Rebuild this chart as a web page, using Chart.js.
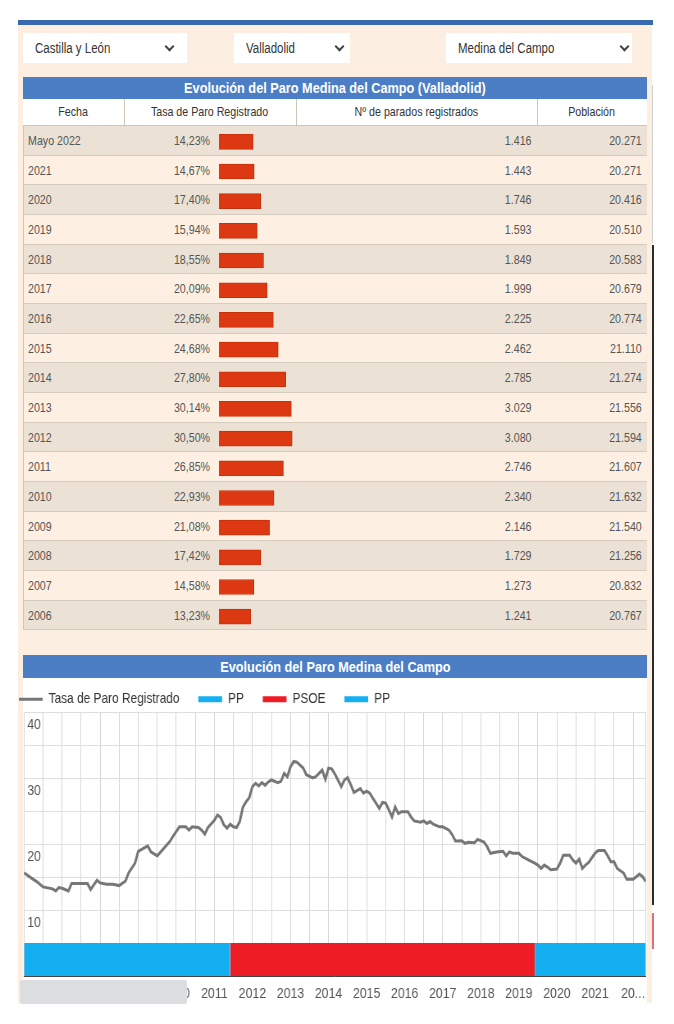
<!DOCTYPE html>
<html lang="es">
<head>
<meta charset="utf-8">
<title>Evolución del Paro Medina del Campo</title>
<script src="https://cdn.jsdelivr.net/npm/chart.js@4.4.1/dist/chart.umd.min.js"></script>
<style>
  body { margin: 0; background: #fff; font-family: "Liberation Sans", Arial, sans-serif; color: #444; }
  #page { position: relative; width: 674px; height: 1024px; overflow: hidden; }
  .abs { position: absolute; }
  /* texto estrecho tipo Arial Narrow */
  .n { display: inline-block; white-space: nowrap; transform: scaleX(0.82); }
  .izq { transform-origin: 0 50%; }
  .der { transform-origin: 100% 50%; }
  #topline { left: 18px; top: 20px; width: 635px; height: 5px; background: #3a69b1; }
  #panel { left: 18px; top: 25px; width: 634px; height: 978px; background: #fcefe2; }
  .select { top: 33px; height: 30px; background: #fff; font-size: 14px; color: #333; line-height: 30px; }
  .select > span { position: absolute; left: 12px; }
  .select i { position: absolute; top: 10px; width: 5px; height: 5px; border-right: 2px solid #444; border-bottom: 2px solid #444; transform: rotate(45deg); }
  #tabla { left: 23px; top: 77px; width: 624px; }
  .titulo { height: 22px; background: #4b7ec4; color: #fff; font-weight: bold; font-size: 15.5px; line-height: 22px; text-align: center; }
  .cab { position: relative; height: 27px; background: #fff; border-bottom: 1px solid #cfc6b9; box-sizing: border-box; font-size: 13px; color: #333; line-height: 26px; }
  .cab > span { position: absolute; top: 0; text-align: center; }
  .cab > i { position: absolute; top: 0; width: 1px; height: 26px; background: #cfc6b9; }
  .fila { position: relative; height: 29.68px; box-sizing: border-box; border-bottom: 1px solid #d5ccbf; border-left: 1px solid #cfc6b9; font-size: 13px; line-height: 29px; color: #555; }
  .fila span { position: absolute; top: 0; }
  #barras { left: 219px; top: 126.5px; width: 84px; height: 504.5px; }
  #grafico-fondo { left: 23px; top: 678px; width: 624px; height: 326px; background: #fff; }
  #grafico-titulo { left: 23px; top: 655px; width: 624px; height: 23px; background: #4b7ec4; color: #fff; font-weight: bold; font-size: 15.5px; line-height: 23px; text-align: center; }
  /* el lienzo se dibuja ancho y se estrecha para imitar la fuente estrecha */
  #linea { left: 0; top: 669px; width: 789px; height: 337px; transform: scaleX(0.82); transform-origin: 0 0; }
  #tapa { left: 20px; top: 980px; width: 167px; height: 24px; background: #dcdde1; border-radius: 2px; z-index: 5; }
  #scroll1 { left: 652px; top: 85px; width: 1px; height: 158px; background: #d0d0d0; }
  #scroll2 { left: 652px; top: 245px; width: 2px; height: 660px; background: #2d2a28; }
  #scroll3 { left: 652px; top: 913px; width: 2px; height: 36px; background: #d9707a; }
</style>
</head>
<body>
<div id="page">
  <div id="topline" class="abs"></div>
  <div id="panel" class="abs"></div>
  <div id="scroll1" class="abs"></div>
  <div id="scroll2" class="abs"></div>
  <div id="scroll3" class="abs"></div>

  <div class="abs select" style="left:23px;width:164px"><span class="n izq">Castilla y León</span><i style="left:143px"></i></div>
  <div class="abs select" style="left:234px;width:116px"><span class="n izq">Valladolid</span><i style="left:102px"></i></div>
  <div class="abs select" style="left:446px;width:186px"><span class="n izq">Medina del Campo</span><i style="left:175px"></i></div>

  <div id="tabla" class="abs">
    <div class="titulo"><span class="n">Evolución del Paro Medina del Campo (Valladolid)</span></div>
    <div class="cab">
      <span style="left:0;width:101px"><span class="n">Fecha</span></span>
      <span style="left:101px;width:172px"><span class="n">Tasa de Paro Registrado</span></span>
      <span style="left:273px;width:241px"><span class="n">Nº de parados registrados</span></span>
      <span style="left:514px;width:110px"><span class="n">Población</span></span>
      <i style="left:101px"></i><i style="left:273px"></i><i style="left:514px"></i>
    </div>
    <div id="filas"></div>
  </div>
  <div id="barras" class="abs"><canvas id="barChart"></canvas></div>

  <div id="grafico-fondo" class="abs"></div>
  <div id="grafico-titulo" class="abs"><span class="n">Evolución del Paro Medina del Campo</span></div>
  <div id="linea" class="abs"><canvas id="lineChart"></canvas></div>
  <div id="tapa" class="abs"></div>
</div>

<script>
// tabla anual
const fechas = ['Mayo 2022', '2021', '2020', '2019', '2018', '2017', '2016', '2015', '2014',
  '2013', '2012', '2011', '2010', '2009', '2008', '2007', '2006'];
const tasaAnual = [14.23, 14.67, 17.40, 15.94, 18.55, 20.09, 22.65, 24.68, 27.80,
  30.14, 30.50, 26.85, 22.93, 21.08, 17.42, 14.58, 13.23];
const parados = [1416, 1443, 1746, 1593, 1849, 1999, 2225, 2462, 2785,
  3029, 3080, 2746, 2340, 2146, 1729, 1273, 1241];
const poblacion = [20271, 20271, 20416, 20510, 20583, 20679, 20774, 21110, 21274,
  21556, 21594, 21607, 21632, 21540, 21256, 20832, 20767];

// serie mensual
const mesesSerie = [
  '2006-01', '2006-03', '2006-05', '2006-07', '2006-10', '2006-11', '2006-12',
  '2007-01', '2007-03', '2007-04', '2007-07', '2007-09', '2007-10', '2007-12',
  '2008-01', '2008-03', '2008-05', '2008-07', '2008-09', '2008-10', '2008-12',
  '2009-01', '2009-04', '2009-05', '2009-07', '2009-09', '2009-11', '2009-12',
  '2010-02', '2010-04', '2010-05', '2010-06', '2010-08', '2010-09', '2010-10', '2010-11',
  '2011-01', '2011-02', '2011-03', '2011-04', '2011-05', '2011-06', '2011-07', '2011-08',
  '2011-09', '2011-10', '2011-11', '2011-12',
  '2012-01', '2012-02', '2012-03', '2012-04', '2012-05', '2012-06', '2012-07', '2012-09',
  '2012-10', '2012-11', '2012-12',
  '2013-01', '2013-02', '2013-03', '2013-05', '2013-06', '2013-08', '2013-09', '2013-11', '2013-12',
  '2014-01', '2014-02', '2014-03', '2014-05', '2014-06', '2014-07', '2014-08', '2014-09',
  '2014-11', '2014-12',
  '2015-01', '2015-02', '2015-03', '2015-05', '2015-06', '2015-07', '2015-08', '2015-09',
  '2015-10', '2015-11', '2015-12',
  '2016-02', '2016-03', '2016-04', '2016-06', '2016-07', '2016-08', '2016-09', '2016-10', '2016-12',
  '2017-01', '2017-03', '2017-04', '2017-05', '2017-07', '2017-08', '2017-09', '2017-11', '2017-12',
  '2018-02', '2018-03', '2018-04', '2018-06', '2018-08', '2018-09', '2018-10', '2018-11',
  '2019-01', '2019-02', '2019-04', '2019-06', '2019-07', '2019-08', '2019-09', '2019-10', '2019-11',
  '2020-01', '2020-02', '2020-03', '2020-05', '2020-06', '2020-07', '2020-08', '2020-09',
  '2020-10', '2020-11',
  '2021-01', '2021-02', '2021-04', '2021-05', '2021-06', '2021-07', '2021-08', '2021-10', '2021-11',
  '2022-01', '2022-02', '2022-03', '2022-04', '2022-05'
];
const tasaMensual = [
  15.65, 14.95, 14.3, 13.5, 13.2, 12.9, 13.4,
  13.3, 12.9, 14.0, 14.0, 14.0, 13.1, 14.5,
  14.1, 13.9, 13.9, 13.7, 14.4, 15.65, 17.1,
  18.9, 19.7, 18.8, 18.2, 19.3, 20.4, 21.2,
  22.6, 22.6, 22.1, 22.6, 22.5, 22.1, 21.5, 22.5,
  23.6, 24.4, 24.0, 22.9, 22.4, 23.0, 22.6, 22.5,
  23.4, 25.6, 26.4, 27.0,
  28.7, 29.2, 28.8, 29.3, 28.9, 29.4, 29.7, 29.3,
  29.5, 30.7, 30.2,
  31.7, 32.5, 32.4, 31.5, 30.5, 30.0, 30.2, 31.2, 29.8,
  31.5, 31.4, 30.6, 28.7, 29.7, 30.05, 29.0, 27.8,
  28.4, 27.7,
  28.0, 27.7, 26.9, 25.4, 26.3, 26.2, 25.2, 24.1,
  25.6, 24.6, 24.9,
  24.9, 24.1, 23.5, 23.3, 23.5, 23.1, 23.4, 23.0, 22.6,
  22.6, 22.1, 21.4, 20.45, 20.5, 20.1, 20.25, 20.2, 20.7,
  20.3, 19.6, 18.6, 18.8, 18.9, 18.2, 18.8, 18.6,
  18.6, 18.1, 17.6, 17.1, 16.8, 16.3, 16.8, 16.5, 16.1,
  16.2, 17.1, 18.3, 18.3, 17.6, 17.1, 17.7, 16.3,
  16.8, 17.2,
  18.6, 19.0, 19.0, 18.2, 17.3, 17.3, 16.3, 15.6, 14.65,
  14.65, 15.05, 15.45, 15.05, 14.3
];

// gobiernos municipales (franja inferior)
const gobiernos = ['PP', 'PSOE', 'PP'];
const gobiernoInicio = ['2006-01', '2011-06', '2019-06'];
const gobiernoFin = ['2011-06', '2019-06', '2022-05'];
const coloresPartido = { PP: '#13aff0', PSOE: '#ee1c24' };
const alturaFranja = 5;

const yEtiquetas = [10, 20, 30, 40];
const xEtiquetas = { 2007: '2007', 2008: '2008', 2009: '2009', 2010: '2010',
  2011: '2011', 2012: '2012', 2013: '2013', 2014: '2014', 2015: '2015', 2016: '2016',
  2017: '2017', 2018: '2018', 2019: '2019', 2020: '2020', 2021: '2021', 2022: '20...' };

const ESTRECHO = 0.82;

function miles(n) { return String(n).replace(/\B(?=(\d{3})+(?!\d))/g, '.'); }
function pct(v) { return v.toFixed(2).replace('.', ',') + '%'; }
function aX(f) { const p = f.split('-'); return +p[0] + (p[1] - 1) / 12; }

// filas de la tabla
const filas = document.getElementById('filas');
fechas.forEach((f, i) => {
  const d = document.createElement('div');
  d.className = 'fila';
  d.style.background = i % 2 === 0 ? '#ebe2d5' : '#fdf0e3';
  d.innerHTML =
    '<span class="n izq" style="left:4px">' + f + '</span>' +
    '<span class="n der" style="right:437px">' + pct(tasaAnual[i]) + '</span>' +
    '<span class="n der" style="right:115px">' + miles(parados[i]) + '</span>' +
    '<span class="n der" style="right:5px">' + miles(poblacion[i]) + '</span>';
  filas.appendChild(d);
});

Chart.defaults.font.family = '"Liberation Sans", Arial, sans-serif';

new Chart(document.getElementById('barChart'), {
  type: 'bar',
  data: {
    labels: fechas,
    datasets: [{
      data: tasaAnual,
      backgroundColor: '#dc3912',
      borderColor: '#c8300c',
      borderWidth: 1,
      barThickness: 15
    }]
  },
  options: {
    indexAxis: 'y',
    animation: false,
    responsive: true,
    maintainAspectRatio: false,
    layout: { padding: 0 },
    plugins: { legend: { display: false }, tooltip: { enabled: false } },
    scales: {
      x: { display: false, min: 0, max: 35 },
      y: { display: false }
    }
  }
});

const datasetsFranja = gobiernos.map((g, i) => ({
  label: g,
  data: [{ x: aX(gobiernoInicio[i]), y: alturaFranja }, { x: aX(gobiernoFin[i]), y: alturaFranja }],
  backgroundColor: coloresPartido[g],
  borderColor: coloresPartido[g],
  borderWidth: 0,
  pointRadius: 0,
  pointStyle: 'rect',
  fill: 'origin'
}));

const xMin = aX(mesesSerie[0]);
const xMax = aX(mesesSerie[mesesSerie.length - 1]);

new Chart(document.getElementById('lineChart'), {
  type: 'line',
  data: {
    datasets: [{
      label: 'Tasa de Paro Registrado',
      data: mesesSerie.map((m, i) => ({ x: aX(m), y: tasaMensual[i] })),
      borderColor: '#767676',
      backgroundColor: '#767676',
      borderWidth: 3,
      pointRadius: 0,
      pointStyle: 'line',
      tension: 0,
      fill: false
    }].concat(datasetsFranja)
  },
  options: {
    animation: false,
    responsive: true,
    maintainAspectRatio: false,
    layout: { padding: 0 },
    plugins: {
      tooltip: { enabled: false },
      legend: {
        position: 'top',
        align: 'start',
        maxHeight: 43,
        labels: {
          usePointStyle: true,
          pointStyleWidth: 29,
          boxHeight: 6,
          padding: 23,
          color: '#333',
          font: { size: 14.5 }
        }
      }
    },
    scales: {
      x: {
        type: 'linear',
        min: xMin,
        max: xMax,
        afterFit: s => { s.height = 30; s.paddingLeft = 0; s.paddingRight = 0; },
        afterBuildTicks: s => {
          const t = [];
          for (let v = xMin; v <= xMax; v += 0.5) t.push({ value: v });
          t.push({ value: xMax });
          s.ticks = t;
        },
        grid: { color: '#d6d6d6', drawTicks: false },
        border: { color: '#444', width: 1 },
        ticks: {
          autoSkip: false,
          maxRotation: 0,
          padding: 9,
          color: '#555',
          font: { size: 15 },
          callback: v => xEtiquetas[v] || ''
        }
      },
      y: {
        min: 0,
        max: 40,
        afterFit: s => { s.width = 24 / ESTRECHO; },
        grid: { color: '#dedede', drawTicks: false },
        border: { display: false },
        ticks: {
          stepSize: 5,
          mirror: true,
          padding: 4,
          labelOffset: 13,
          color: '#555',
          font: { size: 15 },
          callback: v => yEtiquetas.includes(v) ? v : ''
        }
      }
    }
  }
});
</script>
</body>
</html>
